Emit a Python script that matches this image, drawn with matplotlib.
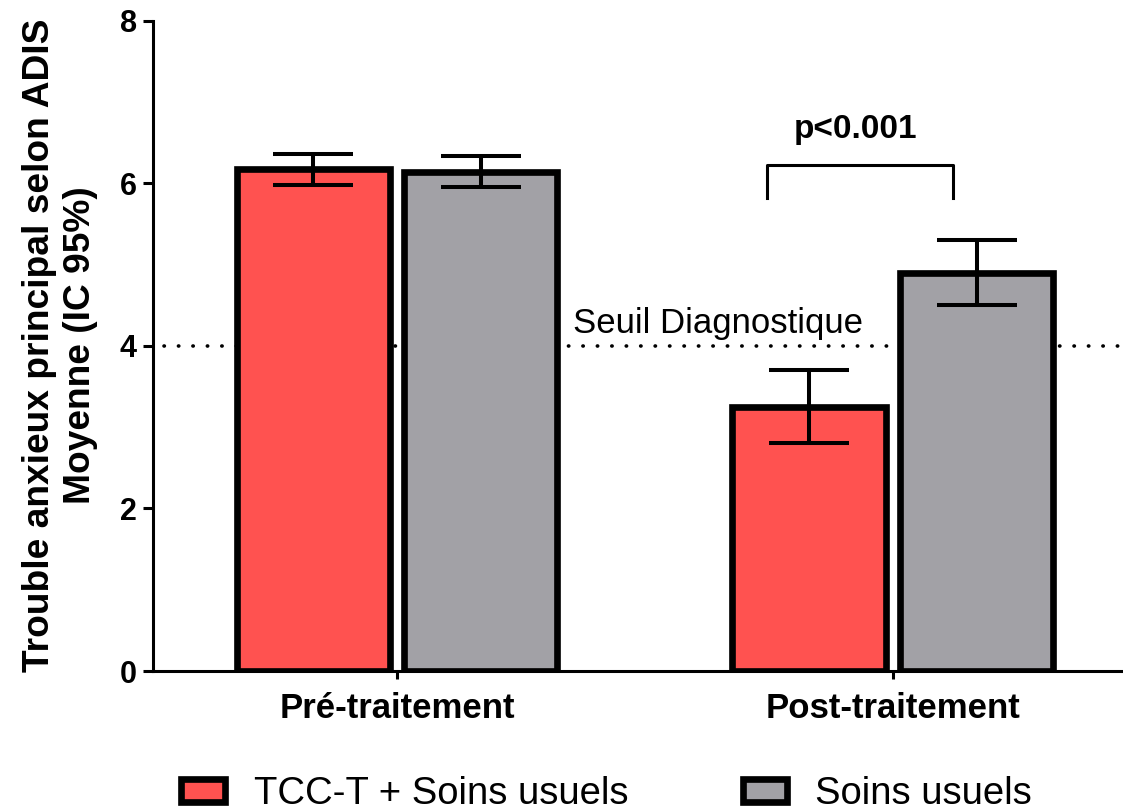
import matplotlib
matplotlib.use("Agg")
import matplotlib.pyplot as plt
from matplotlib.patches import Patch
from matplotlib.transforms import ScaledTranslation

plt.rcParams["font.family"] = ["Liberation Sans", "DejaVu Sans"]

periods = ["Pré-traitement", "Post-traitement"]
groups = ["TCC-T + Soins usuels", "Soins usuels"]
means_tcc = [6.17, 3.25]
ci_tcc = [0.19, 0.45]
means_usual = [6.14, 4.90]
ci_usual = [0.19, 0.40]
threshold = 4
threshold_label = "Seuil Diagnostique"
p_label = "p<0.001"

RED = "#ff5250"
GRAY = "#a2a1a6"
EDGE_LW = 4.8

fig = plt.figure(figsize=(11.23, 8.10), dpi=100)
ax = fig.add_axes([0.1362, 0.1716, 0.8638, 0.8028])

x = [0, 1]
offset, width = 0.169, 0.309
err_kw = dict(fmt="none", ecolor="black", elinewidth=2.9, capsize=29,
              capthick=2.9, zorder=4)

ax.bar([i - offset for i in x], means_tcc, width, color=RED,
       edgecolor="black", linewidth=EDGE_LW, zorder=3)
ax.bar([i + offset for i in x], means_usual, width, color=GRAY,
       edgecolor="black", linewidth=EDGE_LW, zorder=3)
ax.errorbar([i - offset for i in x], means_tcc, yerr=ci_tcc, **err_kw)
ax.errorbar([i + offset for i in x], means_usual, yerr=ci_usual, **err_kw)

# diagnostic threshold
ax.hlines(threshold, -0.47, 1.46, colors="black", linewidth=2.6,
          linestyles=(0, (0.1, 3.9)), capstyle="round", zorder=1)
ax.text(0.355, threshold + 0.16, threshold_label, fontsize=25,
        ha="left", va="baseline")

# significance bracket
ax.plot([0.746, 0.746, 1.121, 1.121], [5.82, 6.23, 6.23, 5.82],
        color="black", linewidth=2.2, zorder=4)
ax.text(0.925, 6.556, p_label, fontsize=24, fontweight="bold",
        ha="center", va="baseline")

ax.set_xlim(-0.492, 1.464)
ax.set_ylim(0, 8)
ax.set_yticks([0, 2, 4, 6, 8])
ax.set_xticks(x)
ax.set_xticklabels(periods, fontsize=25, fontweight="bold")
shift = ScaledTranslation(-9 / 100, 0, fig.dpi_scale_trans)
for lab in ax.get_xticklabels():
    lab.set_transform(lab.get_transform() + shift)
for lab in ax.get_yticklabels():
    lab.set_fontsize(22)
    lab.set_fontweight("bold")
ax.tick_params(axis="y", length=7, width=2.2, pad=4.5)
ax.tick_params(axis="x", length=6, width=2.2, pad=9)
for side in ["top", "right"]:
    ax.spines[side].set_visible(False)
for side in ["left", "bottom"]:
    ax.spines[side].set_linewidth(2.2)

fig.text(60 / 1123, 1 - 345 / 810, "Trouble anxieux principal selon ADIS\nMoyenne (IC 95%)",
         rotation=90, ha="center", va="center", fontsize=26.7,
         fontweight="bold", linespacing=1.2, multialignment="center")

handles = [Patch(facecolor=RED, edgecolor="black", linewidth=EDGE_LW),
           Patch(facecolor=GRAY, edgecolor="black", linewidth=EDGE_LW)]
fig.legend(handles, groups, loc="center left", bbox_to_anchor=(181 / 1123, 1 - 794 / 810),
           ncol=2, frameon=False, fontsize=27.5, handlelength=1.15, handleheight=0.52,
           handletextpad=0.75, columnspacing=3.0, borderpad=0, borderaxespad=0)

fig.savefig("out.png", dpi=100)
